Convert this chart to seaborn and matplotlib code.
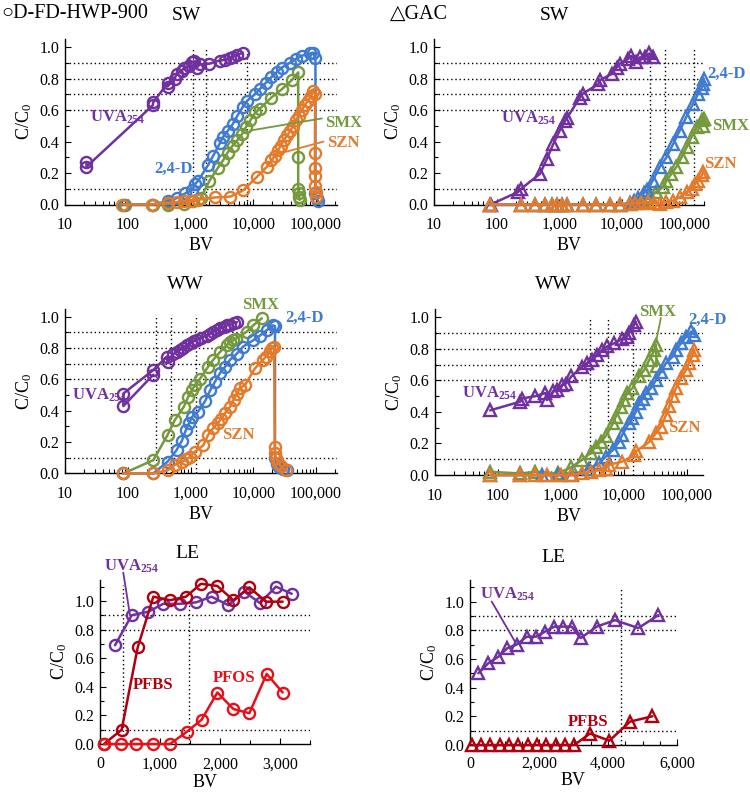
import numpy as np
import pandas as pd
import matplotlib
matplotlib.use("Agg")
import matplotlib.pyplot as plt
import seaborn as sns
from matplotlib.ticker import (FuncFormatter, MultipleLocator, LogLocator,
                               NullFormatter, FormatStrFormatter)

# ---------------- data ----------------
# SW, D-FD-HWP-900 (circles)
SW_HWP_UVA_BV = [22, 22, 250, 255, 430, 430, 560, 600, 720, 800, 950, 1050, 1150, 1250, 1400, 2000, 2900, 3600, 4200, 4800, 5600, 6800]
SW_HWP_UVA_C = [0.27, 0.24, 0.63, 0.65, 0.77, 0.75, 0.80, 0.83, 0.85, 0.87, 0.88, 0.905, 0.91, 0.87, 0.89, 0.895, 0.915, 0.92, 0.93, 0.94, 0.95, 0.965]
SW_HWP_24D_BV = [85, 240, 430, 600, 820, 1050, 1180, 1320, 1900, 2300, 2950, 3300, 3950, 4700, 5600, 6800, 8000, 10600, 12800, 16000, 19500, 23500, 28500, 38000, 48000, 59000, 80000, 89000, 98000, 98000, 103000, 108000]
SW_HWP_24D_C = [0.0, 0.0, 0.02, 0.04, 0.07, 0.09, 0.13, 0.15, 0.25, 0.31, 0.39, 0.43, 0.47, 0.51, 0.565, 0.62, 0.66, 0.70, 0.735, 0.775, 0.81, 0.84, 0.87, 0.90, 0.925, 0.945, 0.96, 0.965, 0.93, 0.07, 0.04, 0.02]
SW_HWP_SMX_BV = [90, 250, 430, 800, 1100, 1450, 2000, 2700, 3300, 3900, 4700, 5600, 6700, 7600, 9000, 10800, 12800, 19400, 29000, 41000, 52000, 52000, 52000, 53000, 54000, 55000]
SW_HWP_SMX_C = [0.0, 0.0, 0.0, 0.005, 0.02, 0.04, 0.15, 0.23, 0.28, 0.33, 0.375, 0.41, 0.45, 0.49, 0.535, 0.585, 0.61, 0.68, 0.735, 0.79, 0.84, 0.30, 0.10, 0.07, 0.05, 0.03]
SW_HWP_SZN_BV = [80, 240, 430, 600, 800, 1000, 1300, 2500, 4300, 6900, 11400, 16500, 19500, 22000, 25000, 27500, 30500, 35000, 39000, 43500, 48000, 53000, 59000, 66000, 74000, 84000, 88000, 97000, 96000, 96000, 97000, 98000, 99000, 101000]
SW_HWP_SZN_C = [0.0, 0.0, 0.01, 0.015, 0.02, 0.025, 0.03, 0.045, 0.05, 0.09, 0.175, 0.24, 0.28, 0.31, 0.345, 0.375, 0.41, 0.44, 0.47, 0.50, 0.535, 0.565, 0.60, 0.63, 0.66, 0.69, 0.72, 0.70, 0.33, 0.23, 0.18, 0.12, 0.08, 0.05]

# SW, GAC (triangles)
SW_GAC_UVA_BV = [80, 220, 245, 490, 630, 800, 1010, 1220, 1320, 2120, 2370, 4170, 4440, 6800, 8150, 9170, 12400, 14100, 16900, 19100, 23000, 27200, 30600]
SW_GAC_UVA_C = [0.0, 0.08, 0.10, 0.195, 0.29, 0.385, 0.47, 0.53, 0.55, 0.68, 0.705, 0.765, 0.79, 0.83, 0.87, 0.895, 0.925, 0.945, 0.905, 0.935, 0.935, 0.96, 0.935]
SW_GAC_24D_BV = [78, 240, 410, 590, 750, 930, 1110, 1300, 2400, 3900, 6400, 9200, 13200, 15700, 18000, 22000, 25000, 30600, 39900, 50900, 65000, 82800, 105000, 135000, 163000, 185000, 196000, 200000]
SW_GAC_24D_C = [0, 0, 0, 0, 0, 0, 0, 0, 0, 0, 0, 0, 0.01, 0.02, 0.04, 0.07, 0.09, 0.15, 0.24, 0.30, 0.385, 0.47, 0.555, 0.64, 0.705, 0.74, 0.765, 0.80]
SW_GAC_SMX_BV = [78, 240, 410, 590, 750, 930, 1110, 1300, 2400, 3900, 6400, 9200, 13200, 17000, 21500, 27200, 35000, 44700, 50900, 61000, 73500, 88500, 107000, 128000, 154000, 186000, 196000, 200000]
SW_GAC_SMX_C = [0, 0, 0, 0, 0, 0, 0, 0, 0, 0, 0, 0, 0.005, 0.01, 0.025, 0.05, 0.08, 0.11, 0.15, 0.195, 0.24, 0.30, 0.365, 0.43, 0.49, 0.535, 0.50, 0.545]
SW_GAC_SZN_BV = [78, 240, 410, 590, 750, 930, 1110, 1300, 2400, 3900, 6400, 9200, 13200, 16000, 20000, 26000, 32000, 39900, 50000, 65000, 82800, 107000, 128000, 145000, 163000, 186000, 196000]
SW_GAC_SZN_C = [0, 0, 0, 0, 0, 0, 0, 0, 0, 0, 0, 0, 0.005, 0.01, 0.01, 0.015, 0.01, 0.005, 0.015, 0.025, 0.046, 0.08, 0.10, 0.13, 0.15, 0.185, 0.205]

# WW, D-FD-HWP-900 (circles)
WW_HWP_UVA_BV = [255, 85, 85, 255, 420, 430, 520, 600, 690, 770, 880, 1000, 1150, 1250, 1450, 1800, 2050, 2300, 2600, 2950, 3400, 3800, 4300, 4850, 5500]
WW_HWP_UVA_C = [0.63, 0.43, 0.51, 0.66, 0.745, 0.71, 0.76, 0.775, 0.79, 0.80, 0.82, 0.835, 0.845, 0.85, 0.865, 0.88, 0.89, 0.905, 0.915, 0.925, 0.935, 0.945, 0.95, 0.96, 0.965]
WW_HWP_SMX_BV = [85, 255, 430, 560, 780, 920, 1050, 1180, 1420, 1900, 2300, 2950, 3800, 4300, 4800, 5300, 7900, 10000, 13700]
WW_HWP_SMX_C = [0.0, 0.085, 0.245, 0.34, 0.425, 0.49, 0.53, 0.565, 0.605, 0.68, 0.725, 0.775, 0.82, 0.84, 0.85, 0.86, 0.905, 0.945, 0.99]
WW_HWP_24D_BV = [85, 255, 430, 600, 730, 850, 950, 1050, 1320, 1700, 2050, 2450, 2950, 3550, 4250, 5500, 6900, 10000, 12800, 16500, 20600, 22200, 22200, 23500, 26000, 30000, 34000]
WW_HWP_24D_C = [0.0, 0.0, 0.075, 0.15, 0.21, 0.28, 0.32, 0.36, 0.395, 0.46, 0.53, 0.585, 0.64, 0.68, 0.725, 0.765, 0.81, 0.85, 0.88, 0.915, 0.945, 0.94, 0.10, 0.06, 0.04, 0.03, 0.02]
WW_HWP_SZN_BV = [85, 255, 430, 560, 730, 850, 980, 1180, 1600, 1900, 2300, 2700, 3100, 3550, 4250, 4850, 5500, 6200, 7400, 10600, 14300, 16000, 18500, 20000, 21500, 22000, 22200, 23000, 25000, 28000, 33000]
WW_HWP_SZN_C = [0.0, 0.0, 0.02, 0.055, 0.075, 0.09, 0.105, 0.14, 0.18, 0.245, 0.29, 0.32, 0.35, 0.385, 0.425, 0.47, 0.51, 0.545, 0.565, 0.67, 0.725, 0.745, 0.78, 0.80, 0.81, 0.17, 0.13, 0.10, 0.065, 0.045, 0.02]

# WW, GAC (triangles)
WW_GAC_UVA_BV = [75, 226, 240, 392, 566, 600, 750, 870, 1040, 1200, 1460, 2150, 2600, 3100, 3750, 4500, 5400, 7000, 9400, 11000, 12000, 14400, 15400]
WW_GAC_UVA_C = [0.41, 0.465, 0.485, 0.50, 0.52, 0.475, 0.53, 0.54, 0.57, 0.58, 0.625, 0.685, 0.71, 0.73, 0.76, 0.79, 0.815, 0.835, 0.865, 0.875, 0.90, 0.95, 0.97]
WW_GAC_SMX_BV = [75, 226, 392, 900, 1460, 2150, 2950, 3550, 4250, 5100, 6750, 7400, 8900, 10000, 11300, 13600, 17400, 20900, 25200, 30300, 32000, 33000]
WW_GAC_SMX_C = [0.02, 0.01, 0.02, 0.01, 0.05, 0.095, 0.14, 0.18, 0.21, 0.245, 0.33, 0.37, 0.43, 0.475, 0.52, 0.55, 0.625, 0.665, 0.73, 0.79, 0.825, 0.69]
WW_GAC_24D_BV = [75, 226, 500, 900, 1500, 2750, 4000, 5100, 6750, 8300, 9400, 12000, 13600, 15400, 17400, 19800, 22200, 26700, 32000, 38500, 46300, 59000, 66800, 80200, 96300, 116000, 131000]
WW_GAC_24D_C = [0.0, 0.0, 0.0, 0.0, 0.0, 0.04, 0.075, 0.115, 0.16, 0.21, 0.255, 0.33, 0.36, 0.40, 0.455, 0.485, 0.52, 0.55, 0.60, 0.655, 0.71, 0.75, 0.79, 0.835, 0.875, 0.91, 0.89]
WW_GAC_SZN_BV = [75, 226, 392, 600, 1000, 1460, 2150, 3000, 4000, 5100, 5800, 9400, 14400, 15500, 25200, 32000, 38500, 46300, 52500, 59000, 66800, 80200, 96300, 108000, 123000, 131000]
WW_GAC_SZN_C = [0.0, 0.0, 0.0, 0.0, 0.0, 0.0, 0.01, 0.02, 0.03, 0.04, 0.065, 0.085, 0.125, 0.15, 0.21, 0.265, 0.305, 0.38, 0.435, 0.50, 0.55, 0.615, 0.665, 0.71, 0.76, 0.79]

# LE, D-FD-HWP-900 (circles)
LE_HWP_UVA_BV = [250, 528, 805, 1055, 1333, 1600, 1860, 2140, 2405, 2667, 2933, 3195]
LE_HWP_UVA_C = [0.69, 0.90, 0.925, 0.98, 0.98, 0.99, 1.03, 0.97, 1.065, 0.985, 1.10, 1.05]
LE_HWP_PFBS_BV = [67, 361, 628, 889, 1167, 1433, 1683, 1955, 2222, 2489, 2767, 3044]
LE_HWP_PFBS_C = [0.0, 0.10, 0.675, 1.03, 1.005, 1.03, 1.12, 1.105, 1.005, 1.095, 0.995, 0.995]
LE_HWP_PFOS_BV = [67, 344, 600, 878, 1167, 1444, 1694, 1956, 2222, 2489, 2778, 3044]
LE_HWP_PFOS_C = [0.0, 0.0, 0.0, 0.0, 0.0, 0.085, 0.17, 0.36, 0.245, 0.215, 0.49, 0.36]

# LE, GAC (triangles)
LE_GAC_UVA_BV = [241, 531, 820, 1082, 1353, 1643, 1913, 2174, 2444, 2686, 2947, 3208, 3671, 4203, 4879, 5459]
LE_GAC_UVA_C = [0.50, 0.57, 0.615, 0.675, 0.70, 0.755, 0.755, 0.79, 0.825, 0.825, 0.825, 0.745, 0.825, 0.87, 0.815, 0.905]
LE_GAC_PFBS_BV = [50, 320, 590, 860, 1130, 1400, 1670, 1940, 2210, 2480, 2750, 3020, 3478, 4039, 4638, 5285]
LE_GAC_PFBS_C = [0, 0, 0, 0, 0, 0, 0, 0, 0, 0, 0, 0, 0.08, 0.03, 0.163, 0.20]

# ---------------- style ----------------
PURPLE = '#7030A0'
BLUE = '#3F7BD0'
GREEN = '#75993D'
ORANGE = '#E47A2A'
DARKRED = '#B0000F'
RED = '#E81018'

sns.set_theme(style='ticks')
plt.rcParams['font.family'] = ['Liberation Serif', 'DejaVu Sans']
plt.rcParams['mathtext.fontset'] = 'custom'
plt.rcParams['mathtext.rm'] = 'Liberation Serif'
plt.rcParams['mathtext.it'] = 'Liberation Serif:italic'
plt.rcParams['mathtext.bf'] = 'Liberation Serif:bold'
plt.rcParams['axes.edgecolor'] = 'black'
plt.rcParams['text.color'] = 'black'
plt.rcParams['axes.labelcolor'] = 'black'
plt.rcParams['xtick.color'] = 'black'
plt.rcParams['ytick.color'] = 'black'

W, H = 750, 793
fig = plt.figure(figsize=(7.5, 7.93), dpi=100)
fig.patch.set_facecolor('white')


def rect(l, t, r, b):
    return [l / W, 1 - b / H, (r - l) / W, (b - t) / H]


ax1 = fig.add_axes(rect(65, 39.3, 337, 204.5))
ax2 = fig.add_axes(rect(434, 39.3, 704, 204.5))
ax3 = fig.add_axes(rect(65, 308.9, 337, 473.5))
ax4 = fig.add_axes(rect(435, 309.4, 703, 475))
ax5 = fig.add_axes(rect(100, 579.5, 310, 744))
ax6 = fig.add_axes(rect(470, 580, 677, 745))

for ax in (ax1, ax2, ax3, ax4):
    ax.set_xscale('log')


def draw(ax, x, y, color, marker):
    ms = 8 if marker == 'o' else 9
    sns.lineplot(x=x, y=y, ax=ax, sort=False, estimator=None, color=color,
                 marker=marker, markersize=ms, markerfacecolor='none',
                 markeredgecolor=color, markeredgewidth=1.7, linewidth=1.8,
                 clip_on=False, zorder=3, legend=False)


DOT = (0, (1, 2))


def refs(ax, hl, vl, vtops):
    for h in hl:
        ax.axhline(h, color='black', lw=1.0, ls=DOT, zorder=1)
    for v, t in zip(vl, vtops):
        ax.vlines(v, 0, t, colors='black', lw=1.0, linestyles=DOT, zorder=1)


def fmt_common(ax, ytop, xlabelpad=3):
    ax.set_ylim(0, ytop)
    ax.yaxis.set_major_locator(MultipleLocator(0.2))
    ax.yaxis.set_minor_locator(MultipleLocator(0.1))
    ax.yaxis.set_major_formatter(FormatStrFormatter('%.1f'))
    for s in ['top', 'right']:
        ax.spines[s].set_visible(False)
    for s in ['left', 'bottom']:
        ax.spines[s].set_color('black')
        ax.spines[s].set_linewidth(1.0)
    ax.tick_params(axis='both', which='both', direction='in', color='black', width=0.8)
    ax.tick_params(axis='both', which='major', length=4, labelsize=11.5)
    ax.tick_params(axis='both', which='minor', length=3)
    ax.tick_params(axis='x', which='major', pad=9)
    ax.tick_params(axis='y', which='major', pad=4)
    ax.set_xlabel('BV', fontsize=13, labelpad=xlabelpad)
    ax.set_ylabel(r'C/C$_0$', fontsize=13, labelpad=4)
    ax.set_facecolor('none')


def fmt_log(ax, xmax):
    ax.set_xlim(10, xmax)
    ax.xaxis.set_major_locator(LogLocator(base=10, numticks=10))
    ax.xaxis.set_minor_locator(LogLocator(base=10, subs=np.arange(2, 10), numticks=10))
    ax.xaxis.set_major_formatter(FuncFormatter(lambda v, p: f'{v:,.0f}'))
    ax.xaxis.set_minor_formatter(NullFormatter())


def fmt_lin(ax, xmax, major, minor):
    ax.set_xlim(0, xmax)
    ax.xaxis.set_major_locator(MultipleLocator(major))
    ax.xaxis.set_minor_locator(MultipleLocator(minor))
    ax.xaxis.set_major_formatter(FuncFormatter(lambda v, p: f'{v:,.0f}'))


def label(ax, x, y, s, color, size=12):
    ax.text(x, y, s, color=color, fontsize=size, fontweight='bold',
            ha='left', va='center', clip_on=False, zorder=5)


def leader(ax, start, end, color):
    ax.annotate('', xy=end, xytext=start,
                arrowprops=dict(arrowstyle='-', color=color, lw=1.3,
                                shrinkA=0, shrinkB=0), zorder=4)


UVA = r'UVA$_{\mathbf{254}}$'

# ---- panel 1: SW, HWP ----
refs(ax1, [0.1, 0.6, 0.7, 0.8, 0.9], [1080, 1750, 7870], [1.0, 1.0, 1.0])
draw(ax1, SW_HWP_UVA_BV, SW_HWP_UVA_C, PURPLE, 'o')
draw(ax1, SW_HWP_SMX_BV, SW_HWP_SMX_C, GREEN, 'o')
draw(ax1, SW_HWP_24D_BV, SW_HWP_24D_C, BLUE, 'o')
draw(ax1, SW_HWP_SZN_BV, SW_HWP_SZN_C, ORANGE, 'o')
fmt_common(ax1, 1.05)
fmt_log(ax1, 2.16e5)
label(ax1, 25, 0.553, UVA, PURPLE)
label(ax1, 265, 0.229, '2,4-D', BLUE)
label(ax1, 139000, 0.52, 'SMX', GREEN)
label(ax1, 148000, 0.388, 'SZN', ORANGE)
leader(ax1, (124000, 0.547), (8870, 0.47), GREEN)
leader(ax1, (132000, 0.40), (24000, 0.32), ORANGE)

# ---- panel 2: SW, GAC ----
refs(ax2, [0.1, 0.6, 0.7, 0.8, 0.9], [28000, 48500, 140000], [1.0, 1.0, 1.0])
draw(ax2, SW_GAC_UVA_BV, SW_GAC_UVA_C, PURPLE, '^')
draw(ax2, SW_GAC_SMX_BV, SW_GAC_SMX_C, GREEN, '^')
draw(ax2, SW_GAC_24D_BV, SW_GAC_24D_C, BLUE, '^')
draw(ax2, SW_GAC_SZN_BV, SW_GAC_SZN_C, ORANGE, '^')
fmt_common(ax2, 1.05)
fmt_log(ax2, 2.02e5)
label(ax2, 118, 0.547, UVA, PURPLE)
label(ax2, 228000, 0.833, '2,4-D', BLUE)
label(ax2, 272000, 0.502, 'SMX', GREEN)
label(ax2, 206000, 0.26, 'SZN', ORANGE)

# ---- panel 3: WW, HWP ----
refs(ax3, [0.1, 0.6, 0.7, 0.8, 0.9], [283, 490, 1220], [1.0, 1.0, 1.0])
draw(ax3, WW_HWP_UVA_BV, WW_HWP_UVA_C, PURPLE, 'o')
draw(ax3, WW_HWP_SMX_BV, WW_HWP_SMX_C, GREEN, 'o')
draw(ax3, WW_HWP_24D_BV, WW_HWP_24D_C, BLUE, 'o')
draw(ax3, WW_HWP_SZN_BV, WW_HWP_SZN_C, ORANGE, 'o')
fmt_common(ax3, 1.05)
fmt_log(ax3, 2.16e5)
label(ax3, 13, 0.50, UVA, PURPLE)
label(ax3, 6600, 1.075, 'SMX', GREEN)
label(ax3, 32000, 0.99, '2,4-D', BLUE)
label(ax3, 3200, 0.245, 'SZN', ORANGE)

# ---- panel 4: WW, GAC ----
refs(ax4, [0.1, 0.6, 0.7, 0.8, 0.9], [2900, 5600, 14100], [1.0, 1.0, 1.0])
draw(ax4, WW_GAC_UVA_BV, WW_GAC_UVA_C, PURPLE, '^')
draw(ax4, WW_GAC_SMX_BV, WW_GAC_SMX_C, GREEN, '^')
draw(ax4, WW_GAC_24D_BV, WW_GAC_24D_C, BLUE, '^')
draw(ax4, WW_GAC_SZN_BV, WW_GAC_SZN_C, ORANGE, '^')
fmt_common(ax4, 1.05)
fmt_log(ax4, 1.795e5)
label(ax4, 27, 0.52, UVA, PURPLE)
label(ax4, 17200, 1.034, 'SMX', GREEN)
label(ax4, 104000, 0.983, '2,4-D', BLUE)
label(ax4, 49800, 0.298, 'SZN', ORANGE)
leader(ax4, (38500, 0.996), (32000, 0.837), GREEN)

# ---- panel 5: LE, HWP ----
refs(ax5, [0.1, 0.8, 0.9], [389, 1489], [1.11, 0.99])
draw(ax5, LE_HWP_UVA_BV, LE_HWP_UVA_C, PURPLE, 'o')
draw(ax5, LE_HWP_PFBS_BV, LE_HWP_PFBS_C, DARKRED, 'o')
draw(ax5, LE_HWP_PFOS_BV, LE_HWP_PFOS_C, RED, 'o')
fmt_common(ax5, 1.15, xlabelpad=1)
fmt_lin(ax5, 3500, 1000, 500)
label(ax5, 67, 1.245, UVA, PURPLE)
label(ax5, 550, 0.41, 'PFBS', DARKRED)
label(ax5, 1883, 0.46, 'PFOS', RED)
leader(ax5, (388, 1.198), (500, 0.90), PURPLE)

# ---- panel 6: LE, GAC ----
refs(ax6, [0.1, 0.8, 0.9], [4368], [1.09])
draw(ax6, LE_GAC_UVA_BV, LE_GAC_UVA_C, PURPLE, '^')
draw(ax6, LE_GAC_PFBS_BV, LE_GAC_PFBS_C, DARKRED, '^')
fmt_common(ax6, 1.15, xlabelpad=0)
ax6.tick_params(axis='x', which='major', pad=8)
fmt_lin(ax6, 6000, 2000, 500)
label(ax6, 290, 1.047, UVA, PURPLE)
label(ax6, 2840, 0.16, 'PFBS', DARKRED)
leader(ax6, (629, 1.0), (1304, 0.72), PURPLE)

# ---- figure-level texts ----
def ftext(x, y, s, size, ha='center'):
    fig.text(x / W, 1 - y / H, s, fontsize=size, ha=ha, va='center',
             family=['Liberation Serif', 'DejaVu Sans'])

ftext(1, 14, '\u25CBD-FD-HWP-900', 14.5, ha='left')
ftext(390, 14, '\u25B3GAC', 14.5, ha='left')
ftext(186, 16, 'SW', 14)
ftext(554, 16, 'SW', 14)
ftext(185, 285, 'WW', 14)
ftext(553, 285, 'WW', 14)
ftext(187, 553, 'LE', 14)
ftext(553, 557, 'LE', 14)

fig.savefig('out.png', dpi=100)
